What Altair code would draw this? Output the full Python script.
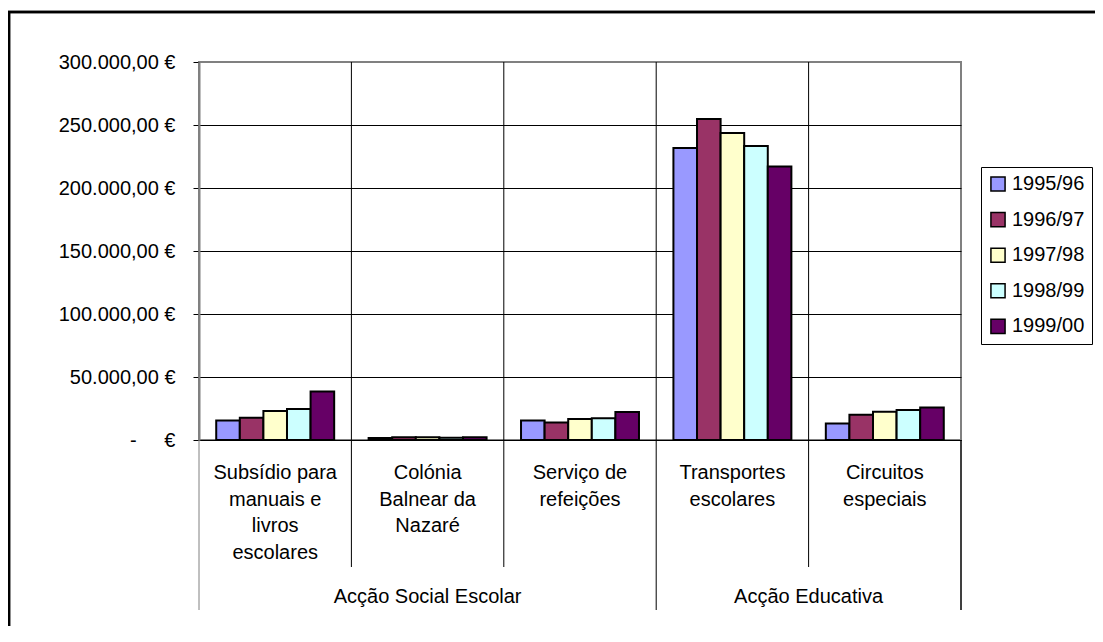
import altair as alt
import pandas as pd

categories = [
    "Subsídio para\nmanuais e\nlivros\nescolares",
    "Colónia\nBalnear da\nNazaré",
    "Serviço de\nrefeições",
    "Transportes\nescolares",
    "Circuitos\nespeciais",
]
groups = ["Acção Social Escolar", "Acção Educativa"]
years = ["1995/96", "1996/97", "1997/98", "1998/99", "1999/00"]
colors = ["#9999FF", "#993366", "#FFFFCC", "#CCFFFF", "#660066"]

v1995 = [15500, 1600, 15400, 231700, 13000]
v1996 = [17600, 2200, 13800, 254700, 20100]
v1997 = [23100, 2200, 16600, 243600, 22500]
v1998 = [24700, 1800, 17200, 233300, 23800]
v1999 = [38400, 2100, 22200, 217100, 25700]
series = [v1995, v1996, v1997, v1998, v1999]

y_ticks = [0, 50000, 100000, 150000, 200000, 250000, 300000]

FONT = "Liberation Sans"
FS = 20
W, H = 762, 378
PAD = {"left": 191, "top": 54, "right": 134, "bottom": 186}

rows = []
for yr, vals in zip(years, series):
    for c, v in zip(categories, vals):
        rows.append({"cat": c, "year": yr, "value": v})
df = pd.DataFrame(rows)

xscale = alt.Scale(domain=categories, paddingInner=0, paddingOuter=0)

label_expr = (
    "datum.value == 0 ? '-\u00a0\u00a0\u00a0\u00a0\u00a0€' : "
    "replace(replace(replace(format(datum.value, ',.2f'), regexp(',', 'g'), '#'), '.', ','), regexp('#', 'g'), '.') + ' €'"
)

bars = alt.Chart(df).mark_bar(stroke="black", strokeWidth=2).encode(
    x=alt.X("cat:N", sort=categories, scale=xscale,
            axis=alt.Axis(labels=False, ticks=False, title=None, domain=True,
                          domainColor="black", domainWidth=1, grid=False)),
    xOffset=alt.XOffset("year:N", sort=years,
                        scale=alt.Scale(domain=years, paddingInner=0, paddingOuter=0.73)),
    y=alt.Y("value:Q", scale=alt.Scale(domain=[0, 300000], nice=False),
            axis=alt.Axis(title=None, values=y_ticks, tickSize=6, tickColor="black",
                          labelExpr=label_expr, labelFont=FONT, labelFontSize=FS,
                          labelColor="black", labelPadding=18,
                          domainColor="#808080", domainWidth=2,
                          grid=True,
                          gridColor={"condition": {"test": "datum.value >= 300000", "value": "#808080"},
                                     "value": "black"},
                          gridWidth=1)),
    color=alt.Color("year:N", sort=years,
                    scale=alt.Scale(domain=years, range=colors),
                    legend=alt.Legend(title=None, orient="none", legendX=782, legendY=105,
                                      symbolType="square", symbolSize=200,
                                      symbolStrokeColor="black", symbolStrokeWidth=1.5,
                                      labelFont=FONT, labelFontSize=FS, labelColor="black",
                                      rowPadding=13.6, padding=7, strokeColor="black",
                                      fillColor="white", labelOffset=4)),
)

sep_df = pd.DataFrame({"cat": categories, "long": [True, False, False, True, False]})

sep_long = alt.Chart(sep_df).transform_filter("datum.long").mark_rule(strokeWidth=1).encode(
    x=alt.X("cat:N", sort=categories, scale=xscale, bandPosition=0),
    y=alt.value(0),
    y2=alt.value(548),
    color=alt.condition(alt.datum.cat == categories[0], alt.value("#808080"), alt.value("black")),
)
sep_short = alt.Chart(sep_df).transform_filter("!datum.long").mark_rule(strokeWidth=1, color="black").encode(
    x=alt.X("cat:N", sort=categories, scale=xscale, bandPosition=0),
    y=alt.value(0),
    y2=alt.value(505),
)
right_end = alt.Chart(sep_df).transform_filter("datum.long").mark_rule(strokeWidth=1, color="black").encode(
    x=alt.value(W),
    y=alt.value(H),
    y2=alt.value(548),
)

cat_labels = alt.Chart(pd.DataFrame({"cat": categories})).mark_text(
    font=FONT, fontSize=FS, lineBreak="\n", lineHeight=26.7, baseline="top",
    align="center", color="black"
).encode(
    x=alt.X("cat:N", sort=categories, scale=xscale),
    y=alt.value(401),
    text="cat:N",
)

grp1 = alt.Chart(pd.DataFrame({"cat": [categories[1]], "g": [groups[0]]})).mark_text(
    font=FONT, fontSize=FS, baseline="middle", align="center", color="black"
).encode(
    x=alt.X("cat:N", sort=categories, scale=xscale, bandPosition=0.5),
    y=alt.value(534.5),
    text="g:N",
)
grp2 = alt.Chart(pd.DataFrame({"cat": [categories[4]], "g": [groups[1]]})).mark_text(
    font=FONT, fontSize=FS, baseline="middle", align="center", color="black"
).encode(
    x=alt.X("cat:N", sort=categories, scale=xscale, bandPosition=0),
    y=alt.value(534.5),
    text="g:N",
)

frame_left = alt.Chart(sep_df).transform_filter("datum.long").mark_rule(
    color="black", strokeWidth=2.5
).encode(x=alt.value(-190), y=alt.value(-51), y2=alt.value(H + PAD["bottom"]))
frame_top = alt.Chart(sep_df).transform_filter("datum.long").mark_rule(
    color="black", strokeWidth=2.5
).encode(x=alt.value(-191), x2=alt.value(W + PAD["right"]), y=alt.value(-50))

chart = alt.layer(
    bars, sep_long, sep_short, right_end, cat_labels, grp1, grp2, frame_left, frame_top
).properties(
    width=W, height=H,
    autosize=alt.AutoSizeParams(type="none"),
    padding=PAD,
).configure(font=FONT).configure_view(stroke="#808080", strokeWidth=2)

chart.save("out.html", embed_options={"renderer": "svg", "actions": False})
